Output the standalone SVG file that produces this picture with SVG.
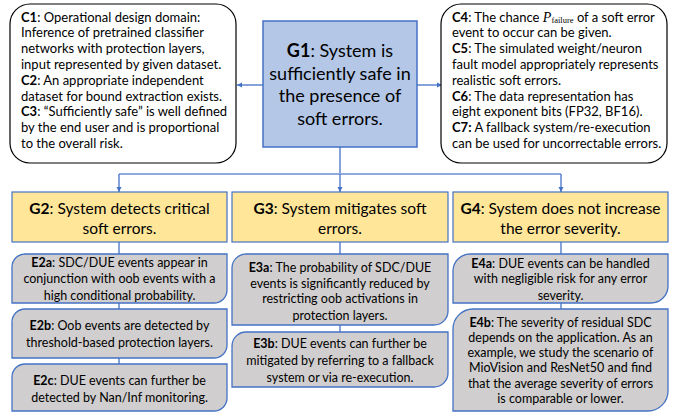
<svg xmlns="http://www.w3.org/2000/svg" width="673" height="414" viewBox="0 0 673 414">
<defs>
<marker id="ah" markerWidth="6" markerHeight="6" refX="5" refY="3" orient="auto" markerUnits="userSpaceOnUse">
<path d="M0,0.5 L5,3 L0,5.5 Z" fill="#4472c4"/>
</marker>
<style>
text{font-family:Lato,"Liberation Sans",sans-serif;fill:#000}
.ctx{font-size:13px}
.ev{font-size:12.5px;text-anchor:middle}
.goal{font-size:15.5px;text-anchor:middle}
.g1{font-size:18px;text-anchor:middle}
.b{font-weight:bold}
.cbox{fill:#fff;stroke:#000;stroke-width:1.2}
.gbox{fill:#ffe699;stroke:#4472c4;stroke-width:1.2}
.ebox{fill:#d0cece;stroke:#4472c4;stroke-width:1.3}
.con{fill:none;stroke:#4472c4;stroke-width:1.3}
.bus{fill:none;stroke:#8faadc;stroke-width:2}
</style>
</defs>
<g id="connectors">
<line class="con" x1="263" y1="85" x2="237" y2="85" marker-end="url(#ah)"/>
<line class="con" x1="417" y1="85" x2="442" y2="85" marker-end="url(#ah)"/>
<line class="con" x1="340" y1="147" x2="340" y2="174" stroke-width="2"/>
<line class="bus" x1="119" y1="174" x2="561" y2="174"/>
<line class="con" x1="119" y1="174" x2="119" y2="192" marker-end="url(#ah)"/>
<line class="con" x1="340" y1="174" x2="340" y2="192" marker-end="url(#ah)"/>
<line class="con" x1="561" y1="174" x2="561" y2="192" marker-end="url(#ah)"/>
<line class="con" x1="119" y1="242" x2="119" y2="254"/>
<line class="con" x1="119" y1="303" x2="119" y2="309"/>
<line class="con" x1="119" y1="358" x2="119" y2="364"/>
<line class="con" x1="340" y1="242" x2="340" y2="254" stroke-width="2"/>
<line class="con" x1="340" y1="325" x2="340" y2="332"/>
<line class="con" x1="561" y1="242" x2="561" y2="254"/>
<line class="con" x1="561" y1="303" x2="561" y2="309"/>
</g>
<g id="C1C3">
<rect class="cbox" x="10" y="4" width="226" height="159" rx="20" ry="20"/>
<text class="ctx" x="21" y="21.5"><tspan class="b">C1</tspan>: Operational design domain:</text>
<text class="ctx" x="21" y="37.3">Inference of pretrained classifier</text>
<text class="ctx" x="21" y="53.1">networks with protection layers,</text>
<text class="ctx" x="21" y="68.9">input represented by given dataset.</text>
<text class="ctx" x="21" y="84.7"><tspan class="b">C2</tspan>: An appropriate independent</text>
<text class="ctx" x="21" y="100.5">dataset for bound extraction exists.</text>
<text class="ctx" x="21" y="116.3"><tspan class="b">C3</tspan>: “Sufficiently safe” is well defined</text>
<text class="ctx" x="21" y="132.1">by the end user and is proportional</text>
<text class="ctx" x="21" y="147.9">to the overall risk.</text>
</g>
<g id="G1">
<rect x="263" y="21" width="154" height="126" fill="#b4c7e7" stroke="#4472c4" stroke-width="1.5"/>
<text class="g1" x="340" y="57"><tspan class="b">G1</tspan>: System is</text>
<text class="g1" x="340" y="79.5">sufficiently safe in</text>
<text class="g1" x="340" y="102">the presence of</text>
<text class="g1" x="340" y="124.5">soft errors.</text>
</g>
<g id="C4C7">
<rect class="cbox" x="441" y="4" width="226" height="159" rx="20" ry="20"/>
<text class="ctx" x="452" y="21.5"><tspan class="b">C4</tspan>: The chance <tspan font-family="'Liberation Serif',serif" font-style="italic" font-size="14px">P</tspan><tspan font-family="'Liberation Serif',serif" font-size="8.5px" dy="1.5">failure</tspan><tspan dy="-1.5"> of a soft error</tspan></text>
<text class="ctx" x="452" y="37.3">event to occur can be given.</text>
<text class="ctx" x="452" y="53.1"><tspan class="b">C5</tspan>: The simulated weight/neuron</text>
<text class="ctx" x="452" y="68.9">fault model appropriately represents</text>
<text class="ctx" x="452" y="84.7">realistic soft errors.</text>
<text class="ctx" x="452" y="100.5"><tspan class="b">C6</tspan>: The data representation has</text>
<text class="ctx" x="452" y="116.3">eight exponent bits (FP32, BF16).</text>
<text class="ctx" x="452" y="132.1"><tspan class="b">C7:</tspan> A fallback system/re-execution</text>
<text class="ctx" x="452" y="147.9">can be used for uncorrectable errors.</text>
</g>
<g id="G2">
<rect class="gbox" x="12" y="192" width="215" height="50"/>
<text class="goal" x="119.5" y="213.5"><tspan class="b">G2</tspan>: System detects critical</text>
<text class="goal" x="119.5" y="233.5">soft errors.</text>
</g>
<g id="G3">
<rect class="gbox" x="232" y="192" width="216" height="50"/>
<text class="goal" x="340" y="213.5"><tspan class="b">G3</tspan>: System mitigates soft</text>
<text class="goal" x="340" y="233.5">errors.</text>
</g>
<g id="G4">
<rect class="gbox" x="453" y="192" width="215" height="50"/>
<text class="goal" x="560.5" y="213.5"><tspan class="b">G4</tspan>: System does not increase</text>
<text class="goal" x="560.5" y="233.5">the error severity.</text>
</g>
<g id="E2a">
<path class="ebox" d="M25,254 H227 V290 A13,13 0 0 1 214,303 H12 V267 A13,13 0 0 1 25,254 Z"/>
<text class="ev" x="119.5" y="266.5"><tspan class="b">E2a</tspan>: SDC/DUE events appear in</text>
<text class="ev" x="119.5" y="283">conjunction with oob events with a</text>
<text class="ev" x="119.5" y="299.5">high conditional probability.</text>
</g>
<g id="E2b">
<path class="ebox" d="M25,309 H227 V345 A13,13 0 0 1 214,358 H12 V322 A13,13 0 0 1 25,309 Z"/>
<text class="ev" x="119.5" y="329.5"><tspan class="b">E2b</tspan>: Oob events are detected by</text>
<text class="ev" x="119.5" y="346.5">threshold-based protection layers.</text>
</g>
<g id="E2c">
<path class="ebox" d="M25,364 H227 V398 A13,13 0 0 1 214,411 H12 V377 A13,13 0 0 1 25,364 Z"/>
<text class="ev" x="119.5" y="384.5"><tspan class="b">E2c</tspan>: DUE events can further be</text>
<text class="ev" x="119.5" y="402">detected by Nan/Inf monitoring.</text>
</g>
<g id="E3a">
<path class="ebox" d="M246,254 H448 V311 A14,14 0 0 1 434,325 H232 V268 A14,14 0 0 1 246,254 Z"/>
<text class="ev" x="340" y="271.5"><tspan class="b">E3a</tspan>: The probability of SDC/DUE</text>
<text class="ev" x="340" y="287.5">events is significantly reduced by</text>
<text class="ev" x="340" y="303">restricting oob activations in</text>
<text class="ev" x="340" y="319.5">protection layers.</text>
</g>
<g id="E3b">
<path class="ebox" d="M246,332 H448 V373 A14,14 0 0 1 434,387 H232 V346 A14,14 0 0 1 246,332 Z"/>
<text class="ev" x="340" y="347.5"><tspan class="b">E3b</tspan>: DUE events can further be</text>
<text class="ev" x="340" y="364.5">mitigated by referring to a fallback</text>
<text class="ev" x="340" y="381.5">system or via re-execution.</text>
</g>
<g id="E4a">
<path class="ebox" d="M470,254 H668 V286 A17,17 0 0 1 651,303 H453 V271 A17,17 0 0 1 470,254 Z"/>
<text class="ev" x="560.5" y="267.5"><tspan class="b">E4a</tspan>: DUE events can be handled</text>
<text class="ev" x="560.5" y="283">with negligible risk for any error</text>
<text class="ev" x="560.5" y="299.5">severity.</text>
</g>
<g id="E4b">
<path class="ebox" d="M473,309 H668 V391 A20,20 0 0 1 648,411 H453 V329 A20,20 0 0 1 473,309 Z"/>
<text class="ev" x="560.5" y="326.5"><tspan class="b">E4b</tspan>: The severity of residual SDC</text>
<text class="ev" x="560.5" y="341.8">depends on the application. As an</text>
<text class="ev" x="560.5" y="357.1">example, we study the scenario of</text>
<text class="ev" x="560.5" y="372.4">MioVision and ResNet50 and find</text>
<text class="ev" x="560.5" y="387.7">that the average severity of errors</text>
<text class="ev" x="560.5" y="403">is comparable or lower.</text>
</g>
</svg>
